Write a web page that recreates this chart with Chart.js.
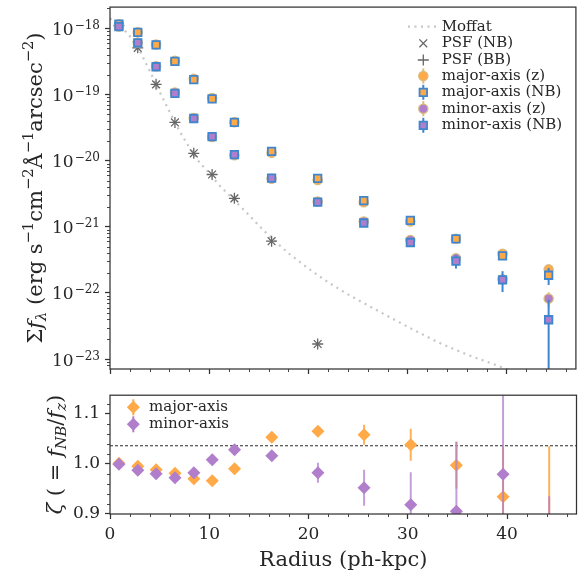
<!DOCTYPE html>
<html><head><meta charset="utf-8">
<script src="https://cdn.jsdelivr.net/npm/chart.js@4.4.1/dist/chart.umd.min.js"></script>
<style>
html,body{margin:0;padding:0;background:#fff;}
#wrap{position:relative;width:583px;height:575px;overflow:hidden;}
#top{position:absolute;left:0;top:0;}
#bot{position:absolute;left:0;top:380px;}
</style></head><body>
<div id="wrap"><canvas id="top" width="583" height="380"></canvas><canvas id="bot" width="583" height="195"></canvas></div>
<script>
// ---------------- data ----------------
const radius   = [0.9, 2.8, 4.65, 6.55, 8.45, 10.3, 12.55, 16.3, 20.95, 25.6, 30.3, 34.9, 39.6, 44.25];
const majorNB    = [1.15e-18, 8.7e-19, 5.6e-19, 3.16e-19, 1.67e-19, 8.55e-20, 3.77e-20, 1.38e-20, 5.4e-21, 2.48e-21, 1.25e-21, 6.56e-22, 3.64e-22, 1.85e-22];
const majorNBErr = [2e-20, 1.5e-20, 1e-20, 5e-21, 3e-21, 1.5e-21, 8e-22, 3e-22, 1.5e-22, 1e-22, 6e-23, 4e-23, 4e-23, 5.3e-23];
const majorZ     = [1.149e-18, 8.74e-19, 5.67e-19, 3.22e-19, 1.72e-19, 8.85e-20, 3.81e-20, 1.31e-20, 5.07e-21, 2.34e-21, 1.2e-21, 6.58e-22, 3.9e-22, 2.27e-22];
const majorZErr  = [1.5e-20, 1e-20, 7e-21, 4e-21, 2.5e-21, 1.2e-21, 6e-22, 2.5e-22, 1.2e-22, 8e-23, 5e-23, 3.5e-23, 3e-23, 2e-23];
const minorNB    = [1.06e-18, 6.0e-19, 2.62e-19, 1.04e-19, 4.33e-20, 2.3e-20, 1.23e-20, 5.42e-21, 2.36e-21, 1.14e-21, 5.78e-22, 3.03e-22, 1.58e-22, 3.93e-23];
const minorNBErr = [2e-20, 1.2e-20, 6e-21, 3e-21, 1.5e-21, 8e-22, 5e-22, 2.5e-22, 1.5e-22, 8e-23, 8e-23, 7e-23, 5.5e-23, 4e-23];
const minorZ     = [1.061e-18, 6.08e-19, 2.67e-19, 1.07e-19, 4.41e-20, 2.28e-20, 1.2e-20, 5.33e-21, 2.4e-21, 1.2e-21, 6.3e-22, 3.35e-22, 1.61e-22, 8.2e-23];
const minorZErr  = [1.5e-20, 8e-21, 4e-21, 2e-21, 1e-21, 6e-22, 4e-22, 2e-22, 1.2e-22, 7e-23, 5e-23, 3.5e-23, 2.5e-23, 2e-23];

const psfRadius = [0.9, 2.8, 4.65, 6.55, 8.45, 10.3, 12.55, 16.3, 20.95];
const psfNB     = [1.1e-18, 5.06e-19, 1.42e-19, 3.77e-20, 1.29e-20, 6.16e-21, 2.69e-21, 6.05e-22, 1.69e-23];
const psfBB     = [1.1e-18, 5.06e-19, 1.42e-19, 3.77e-20, 1.29e-20, 6.16e-21, 2.69e-21, 6.05e-22, 1.69e-23];

const moffatR = [0,1,2,3,4,5,6,7,8,9,10,11,12,13,14,15,16,18,20,22,24,26,28,30,33,36,40,44,47];
const moffatF = [1.41e-18, 1.12e-18, 7.6e-19, 4.57e-19, 2.29e-19, 1.1e-19, 5.5e-20, 2.82e-20, 1.58e-20, 9.5e-21, 6.46e-21, 4.27e-21, 3.02e-21, 2.14e-21, 1.51e-21, 1.05e-21, 7.4e-22, 3.98e-22, 2.34e-22, 1.45e-22, 9.5e-23, 6.5e-23, 4.47e-23, 3.09e-23, 1.82e-23, 1.17e-23, 7.1e-24, 4.5e-24, 3.4e-24];

const zetaMajor    = [1.001, 0.995, 0.988, 0.981, 0.970, 0.966, 0.990, 1.053, 1.065, 1.058, 1.038, 0.997, 0.934, 0.84];
const zetaMajorErr = [0.003, 0.003, 0.004, 0.004, 0.005, 0.006, 0.007, 0.008, 0.010, 0.020, 0.032, 0.047, 0.100, 0.195];
const zetaMinor    = [0.999, 0.987, 0.980, 0.972, 0.982, 1.008, 1.028, 1.016, 0.982, 0.952, 0.918, 0.905, 0.979, 0.80];
const zetaMinorErr = [0.003, 0.003, 0.004, 0.004, 0.005, 0.006, 0.007, 0.008, 0.020, 0.036, 0.065, 0.139, 0.200, 0.135];
const zetaRef = 1.036;

const xTicks = [0, 10, 20, 30, 40];
const xTickLabels = ['0', '10', '20', '30', '40'];
const fTicks = [1e-23, 1e-22, 1e-21, 1e-20, 1e-19, 1e-18];
const fTickExp = ['\u221223', '\u221222', '\u221221', '\u221220', '\u221219', '\u221218'];
const zTicks = [0.9, 1.0, 1.1];
const zTickLabels = ['0.9', '1.0', '1.1'];

// ---------------- styles ----------------
const FONT = '"DejaVu Serif", serif';
const TEXT = '#262626';
const SPINE = '#333333';
const ORANGE = '#ffa947';
const PURPLE = '#b07ecb';
const BLUE = '#3f86cf';
const TAN = '#dabb7c';
const GRAY = '#666666';
const MOFF = '#c6c6c6';

const pts = (xs, ys) => xs.map((x, i) => ({x: x, y: ys[i]}));

// error bar plugin (drawn right before each dataset)
const errPlugin = {
  id: 'errbars',
  beforeDatasetDraw(chart, args) {
    const ds = chart.data.datasets[args.index];
    if (!ds.errs) return;
    const xs = chart.scales.x, ys = chart.scales.y, a = chart.chartArea, ctx = chart.ctx;
    ctx.save();
    ctx.beginPath(); ctx.rect(a.left, a.top, a.right - a.left, a.bottom - a.top); ctx.clip();
    ctx.strokeStyle = ds.errColor; ctx.lineWidth = ds.errWidth || 2;
    ds.data.forEach((p, i) => {
      const e = ds.errs[i];
      const px = xs.getPixelForValue(p.x);
      const lo = p.y - e, hi = p.y + e;
      const yLo = (ys.type === 'logarithmic' && lo <= 0) ? a.bottom + 20 : ys.getPixelForValue(lo);
      const yHi = ys.getPixelForValue(hi);
      ctx.beginPath(); ctx.moveTo(px, yLo); ctx.lineTo(px, yHi); ctx.stroke();
    });
    ctx.restore();
  }
};

function richWidth(ctx, parts, F) {
  let w = 0;
  parts.forEach(p => {
    const s = p.sc ? F * 0.7 : F;
    ctx.font = (p.it ? 'italic ' : '') + s + 'px ' + FONT;
    w += ctx.measureText(p.t).width;
  });
  return w;
}
function drawRichVertical(ctx, parts, bx, cy, F) {
  ctx.save();
  ctx.translate(bx, cy);
  ctx.rotate(-Math.PI / 2);
  const W = richWidth(ctx, parts, F);
  let x = -W / 2;
  ctx.fillStyle = TEXT; ctx.textBaseline = 'alphabetic'; ctx.textAlign = 'left';
  parts.forEach(p => {
    const s = p.sc ? F * 0.7 : F;
    ctx.font = (p.it ? 'italic ' : '') + s + 'px ' + FONT;
    const dy = p.sc === 'sup' ? -0.42 * F : (p.sc === 'sub' ? 0.2 * F : 0);
    ctx.fillText(p.t, x, dy);
    x += ctx.measureText(p.t).width;
  });
  ctx.restore();
}

function frameAndMinor(chart, logY, yMinorStep) {
  const {ctx, chartArea: a} = chart;
  const xs = chart.scales.x, ys = chart.scales.y;
  ctx.save();
  ctx.strokeStyle = SPINE; ctx.lineWidth = 0.9;
  for (let v = 2; v <= xs.max; v += 2) {
    if (v % 10 === 0) continue;
    const px = Math.round(xs.getPixelForValue(v)) + 0.5;
    ctx.beginPath(); ctx.moveTo(px, a.bottom); ctx.lineTo(px, a.bottom + 3); ctx.stroke();
  }
  if (logY) {
    for (let d = -24; d <= -18; d++) {
      for (let m = 2; m <= 9; m++) {
        const v = m * Math.pow(10, d);
        if (v < ys.min || v > ys.max) continue;
        const py = Math.round(ys.getPixelForValue(v)) + 0.5;
        ctx.beginPath(); ctx.moveTo(a.left - 3, py); ctx.lineTo(a.left, py); ctx.stroke();
      }
    }
  } else {
    for (let k = 0; k < 20; k++) {
      const v = 0.9 + k * yMinorStep;
      if (v > ys.max) break;
      if (k % 5 === 0) continue;
      const py = Math.round(ys.getPixelForValue(v)) + 0.5;
      ctx.beginPath(); ctx.moveTo(a.left - 3, py); ctx.lineTo(a.left, py); ctx.stroke();
    }
  }
  ctx.strokeStyle = SPINE; ctx.lineWidth = 1.25;
  ctx.strokeRect(a.left, a.top, a.right - a.left, a.bottom - a.top);
  ctx.restore();
}

const gridOpts = {display: true, drawOnChartArea: false, drawTicks: true, tickLength: 5, tickWidth: 1.25, tickColor: SPINE, color: 'rgba(0,0,0,0)'};

// ---------------- top chart ----------------
const topPlugin = {
  id: 'topdeco',
  afterDraw(chart) {
    const ctx = chart.ctx, ys = chart.scales.y, a = chart.chartArea;
    frameAndMinor(chart, true, 0);
    // y tick labels 10^n
    ctx.save();
    ctx.fillStyle = TEXT; ctx.textAlign = 'right'; ctx.textBaseline = 'alphabetic';
    fTicks.forEach((v, i) => {
      const py = ys.getPixelForValue(v);
      ctx.font = '12px ' + FONT;
      const sw = ctx.measureText(fTickExp[i]).width;
      ctx.fillText(fTickExp[i], 100, py + 0.5);
      ctx.font = '17px ' + FONT;
      ctx.fillText('10', 100 - sw - 1, py + 6.5);
    });
    ctx.restore();
    // y title
    drawRichVertical(ctx, [
      {t: '\u03a3'}, {t: 'f', it: true}, {t: '\u03bb', it: true, sc: 'sub'},
      {t: ' (erg s'}, {t: '\u22121', sc: 'sup'}, {t: 'cm'}, {t: '\u22122', sc: 'sup'},
      {t: '\u00c5'}, {t: '\u22121', sc: 'sup'}, {t: 'arcsec'}, {t: '\u22122', sc: 'sup'}, {t: ')'}
    ], 42, (a.top + a.bottom) / 2, 21);
    // legend
    const H = Chart.helpers;
    const lx = 423.3, tx = 441.7;
    const rows = [26.7, 43.3, 60, 76, 92.3, 108.7, 125.3];
    const labels = ['Moffat', 'PSF (NB)', 'PSF (BB)', 'major-axis (z)', 'major-axis (NB)', 'minor-axis (z)', 'minor-axis (NB)'];
    ctx.save();
    // Moffat sample
    ctx.strokeStyle = MOFF; ctx.lineWidth = 2.2; ctx.setLineDash([2, 4.5]);
    ctx.beginPath(); ctx.moveTo(408, rows[0]); ctx.lineTo(438, rows[0]); ctx.stroke();
    ctx.setLineDash([]);
    // PSF markers
    ctx.strokeStyle = GRAY; ctx.lineWidth = 1.3;
    H.drawPoint(ctx, {pointStyle: 'crossRot', radius: 5.5, borderWidth: 1.3, rotation: 0}, lx, rows[1]);
    H.drawPoint(ctx, {pointStyle: 'cross', radius: 5.5, borderWidth: 1.3, rotation: 0}, lx, rows[2]);
    const errMark = (row, barColor, fill, edge, style, r, bw) => {
      ctx.strokeStyle = barColor; ctx.lineWidth = 2;
      ctx.beginPath(); ctx.moveTo(lx, row - 7.5); ctx.lineTo(lx, row + 7.5); ctx.stroke();
      ctx.fillStyle = fill; ctx.strokeStyle = edge; ctx.lineWidth = bw;
      H.drawPoint(ctx, {pointStyle: style, radius: r, borderWidth: bw, rotation: 0}, lx, row);
    };
    errMark(rows[3], TAN, ORANGE, TAN, 'circle', 4.6, 1.3);
    errMark(rows[4], BLUE, ORANGE, BLUE, 'rect', 5.3, 1.8);
    errMark(rows[5], TAN, PURPLE, TAN, 'circle', 4.6, 1.3);
    errMark(rows[6], BLUE, PURPLE, BLUE, 'rect', 5.3, 1.8);
    ctx.fillStyle = TEXT; ctx.font = '15px ' + FONT; ctx.textAlign = 'left'; ctx.textBaseline = 'middle';
    labels.forEach((t, i) => ctx.fillText(t, tx, rows[i]));
    ctx.restore();
  }
};

new Chart(document.getElementById('top'), {
  type: 'scatter',
  data: {
    datasets: [
      {label: 'Moffat', data: pts(moffatR, moffatF), showLine: true, borderColor: MOFF, borderWidth: 2.2, borderDash: [2, 4.5], pointRadius: 0, order: 10},
      {label: 'PSF (NB)', data: pts(psfRadius, psfNB), pointStyle: 'crossRot', pointRadius: 5.5, pointBorderColor: GRAY, pointBorderWidth: 1.3, order: 9},
      {label: 'PSF (BB)', data: pts(psfRadius, psfBB), pointStyle: 'cross', pointRadius: 5.5, pointBorderColor: GRAY, pointBorderWidth: 1.3, order: 8},
      {label: 'major-axis (z)', data: pts(radius, majorZ), errs: majorZErr, errColor: TAN, pointStyle: 'circle', pointRadius: 4.6, pointBackgroundColor: ORANGE, pointBorderColor: TAN, pointBorderWidth: 1.3, order: 7},
      {label: 'major-axis (NB)', data: pts(radius, majorNB), errs: majorNBErr, errColor: BLUE, pointStyle: 'rect', pointRadius: 5.3, pointBackgroundColor: ORANGE, pointBorderColor: BLUE, pointBorderWidth: 1.8, order: 6},
      {label: 'minor-axis (z)', data: pts(radius, minorZ), errs: minorZErr, errColor: TAN, pointStyle: 'circle', pointRadius: 4.6, pointBackgroundColor: PURPLE, pointBorderColor: TAN, pointBorderWidth: 1.3, order: 5},
      {label: 'minor-axis (NB)', data: pts(radius, minorNB), errs: minorNBErr, errColor: BLUE, pointStyle: 'rect', pointRadius: 5.3, pointBackgroundColor: PURPLE, pointBorderColor: BLUE, pointBorderWidth: 1.8, order: 4}
    ]
  },
  options: {
    responsive: false, animation: false, devicePixelRatio: 1, events: [],
    layout: {padding: {top: 6, right: 6, left: 0, bottom: 0}},
    plugins: {legend: {display: false}, tooltip: {enabled: false}},
    scales: {
      x: {type: 'linear', min: 0, max: 47,
          afterBuildTicks: s => { s.ticks = xTicks.map(v => ({value: v})); },
          ticks: {display: false}, grid: gridOpts, border: {display: false},
          afterFit: s => { s.height = 11; }},
      y: {type: 'logarithmic', min: 7.08e-24, max: 2.09e-18,
          afterBuildTicks: s => { s.ticks = fTicks.map(v => ({value: v})); },
          ticks: {display: false}, grid: gridOpts, border: {display: false},
          afterFit: s => { s.width = 110; }}
    }
  },
  plugins: [errPlugin, topPlugin]
});

// ---------------- bottom chart ----------------
const botPlugin = {
  id: 'botdeco',
  afterDraw(chart) {
    const ctx = chart.ctx, a = chart.chartArea;
    frameAndMinor(chart, false, 0.02);
    drawRichVertical(ctx, [
      {t: '\u03b6', it: true}, {t: ' ( = '}, {t: 'f', it: true}, {t: 'NB', it: true, sc: 'sub'},
      {t: '/'}, {t: 'f', it: true}, {t: 'z', it: true, sc: 'sub'}, {t: ')'}
    ], 62, (a.top + a.bottom) / 2, 21);
    const H = Chart.helpers;
    const lx = 133.3, tx = 149;
    const rows = [27.3, 44.3];
    ctx.save();
    [[ORANGE, 'major-axis'], [PURPLE, 'minor-axis']].forEach((e, i) => {
      ctx.strokeStyle = e[0]; ctx.lineWidth = 2;
      ctx.beginPath(); ctx.moveTo(lx, rows[i] - 8); ctx.lineTo(lx, rows[i] + 8); ctx.stroke();
      ctx.fillStyle = e[0];
      H.drawPoint(ctx, {pointStyle: 'rectRot', radius: 6.5, borderWidth: 0, rotation: 0}, lx, rows[i]);
      ctx.fillStyle = TEXT; ctx.font = '15px ' + FONT; ctx.textAlign = 'left'; ctx.textBaseline = 'middle';
      ctx.fillText(e[1], tx, rows[i]);
    });
    ctx.restore();
  }
};

new Chart(document.getElementById('bot'), {
  type: 'scatter',
  data: {
    datasets: [
      {label: 'ref', data: [{x: 0, y: zetaRef}, {x: 47, y: zetaRef}], showLine: true, borderColor: '#111111', borderWidth: 0.9, borderDash: [3, 2], pointRadius: 0, order: 3},
      {label: 'major-axis', data: pts(radius, zetaMajor), errs: zetaMajorErr, errColor: 'rgba(255,169,71,0.9)', pointStyle: 'rectRot', pointRadius: 6.5, pointBackgroundColor: ORANGE, pointBorderWidth: 0, order: 2},
      {label: 'minor-axis', data: pts(radius, zetaMinor), errs: zetaMinorErr, errColor: 'rgba(176,126,203,0.75)', pointStyle: 'rectRot', pointRadius: 6.5, pointBackgroundColor: PURPLE, pointBorderWidth: 0, order: 1}
    ]
  },
  options: {
    responsive: false, animation: false, devicePixelRatio: 1, events: [],
    layout: {padding: {top: 14, right: 6, left: 0, bottom: 0}},
    plugins: {legend: {display: false}, tooltip: {enabled: false}},
    scales: {
      x: {type: 'linear', min: 0, max: 47,
          afterBuildTicks: s => { s.ticks = xTicks.map(v => ({value: v})); },
          ticks: {display: true, maxRotation: 0, autoSkip: false, padding: 5, color: TEXT, font: {family: FONT, size: 17},
                  callback: (v, i) => xTickLabels[i]},
          title: {display: true, text: 'Radius (ph-kpc)', color: TEXT, font: {family: FONT, size: 21}, padding: {top: 0, bottom: 2}},
          grid: gridOpts, border: {display: false},
          afterFit: s => { s.height = 61; }},
      y: {type: 'linear', min: 0.8997, max: 1.137,
          afterBuildTicks: s => { s.ticks = zTicks.map(v => ({value: v})); },
          ticks: {display: true, autoSkip: false, padding: 5, color: TEXT, font: {family: FONT, size: 17},
                  callback: (v, i) => zTickLabels[i]},
          grid: gridOpts, border: {display: false},
          afterFit: s => { s.width = 110; }}
    }
  },
  plugins: [errPlugin, botPlugin]
});
</script>
</body></html>
